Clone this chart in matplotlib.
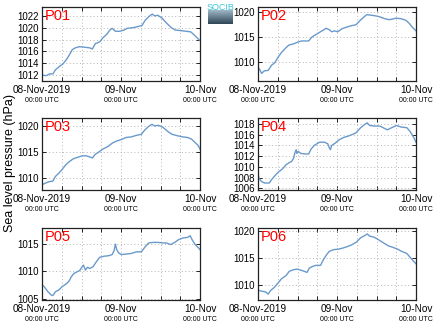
import numpy as np
import matplotlib
matplotlib.use("Agg")
import matplotlib.pyplot as plt

plt.rcParams['font.family'] = ['Liberation Sans', 'DejaVu Sans']

# hours since 08-Nov-2019 00:00 UTC, sea level pressure (hPa)
p01_h = [0, 1.3, 2.3, 3.3, 4.1, 5.4, 6.4, 7.4, 8.4, 9.2, 10.1, 11.4, 13.0, 14.5, 15.3, 16.2, 17.5, 18.5, 19.7, 20.6,
         21.3, 22.3, 23.6, 24.9, 25.9, 27.6, 29.2, 30.4, 31.4, 32.7, 33.5, 34.2, 35.2, 36.5, 37.8, 39.3, 40.5, 42.3,
         43.8, 45.2, 46.4, 48]
p01_p = [1012.0, 1011.9, 1012.2, 1012.2, 1012.9, 1013.5, 1013.9, 1014.6, 1015.5, 1016.3, 1016.6, 1016.8, 1016.7,
         1016.6, 1016.4, 1017.3, 1017.6, 1018.3, 1018.9, 1019.6, 1019.9, 1019.4, 1019.4, 1019.6, 1019.9, 1020.0,
         1020.2, 1020.4, 1021.3, 1022.0, 1022.3, 1022.0, 1022.1, 1021.6, 1020.8, 1020.0, 1019.6, 1019.5, 1019.4,
         1019.3, 1018.7, 1017.8]

p02_h = [0, 0.5, 1.1, 1.9, 3.1, 4.1, 5.1, 6.1, 7.1, 8.4, 9.4, 10.7, 12.2, 13.2, 14.4, 15.4, 16.4, 17.7, 19.2, 20.7,
         21.7, 22.4, 23.2, 24.2, 25.5, 26.8, 28.3, 29.8, 31.1, 32.3, 33.1, 34.1, 35.3, 36.8, 38.5, 39.8, 40.8, 41.8,
         43.4, 44.9, 45.9, 46.9, 48]
p02_p = [1009.0, 1008.6, 1007.8, 1008.3, 1008.4, 1009.4, 1009.9, 1011.0, 1011.9, 1012.8, 1013.4, 1013.6, 1014.0,
         1014.2, 1014.2, 1014.2, 1015.0, 1015.5, 1016.1, 1016.7, 1016.4, 1016.0, 1016.2, 1016.0, 1016.6, 1016.9,
         1017.2, 1017.4, 1018.3, 1019.0, 1019.4, 1019.3, 1019.2, 1019.0, 1018.6, 1018.4, 1018.5, 1018.7, 1018.6,
         1018.3, 1017.7, 1016.9, 1016.2]

p03_h = [0, 1.0, 2.3, 3.3, 4.1, 5.1, 6.1, 7.1, 8.1, 9.4, 10.7, 12.2, 13.5, 14.5, 15.3, 16.2, 17.2, 18.5, 20.1, 21.3,
         22.6, 24.1, 25.6, 27.1, 28.7, 30.2, 31.2, 32.4, 33.4, 34.2, 35.4, 36.8, 38.3, 39.5, 41.3, 42.8, 44.2, 45.4,
         46.4, 47.4, 48]
p03_p = [1008.8, 1009.1, 1009.4, 1009.5, 1010.4, 1011.0, 1011.7, 1012.5, 1013.1, 1013.7, 1014.0, 1014.3, 1014.3,
         1014.1, 1013.9, 1014.6, 1015.0, 1015.6, 1016.1, 1016.7, 1017.1, 1017.4, 1017.8, 1017.9, 1018.2, 1018.4,
         1019.2, 1019.9, 1020.3, 1020.0, 1020.1, 1019.7, 1018.9, 1018.4, 1018.1, 1017.9, 1017.8, 1017.5, 1016.9,
         1016.3, 1015.6]

p04_h = [0, 0.3, 1.0, 2.0, 3.4, 4.1, 4.9, 6.1, 7.4, 8.5, 9.5, 10.2, 10.8, 11.2, 11.6, 11.8, 12.2, 13.0, 14.6, 15.4,
         16.1, 17.1, 18.7, 20.2, 21.2, 21.7, 22.0, 22.4, 23.4, 24.8, 26.1, 27.3, 28.5, 29.7, 31.2, 32.4, 33.2, 33.9,
         35.5, 37.0, 38.0, 39.3, 40.6, 42.1, 43.6, 45.2, 46.2, 47.2, 48]
p04_p = [1008.8, 1007.9, 1007.3, 1007.0, 1007.0, 1007.6, 1008.2, 1009.0, 1009.6, 1010.4, 1010.8, 1011.0, 1011.6,
         1012.6, 1013.2, 1012.5, 1012.9, 1012.5, 1012.4, 1012.4, 1013.3, 1014.0, 1014.6, 1014.6, 1014.3, 1013.5,
         1013.2, 1014.0, 1014.4, 1015.1, 1015.5, 1015.7, 1016.0, 1016.3, 1017.3, 1017.9, 1018.2, 1017.7, 1017.6,
         1017.6, 1017.3, 1016.9, 1017.3, 1017.7, 1017.4, 1017.3, 1016.6, 1015.6, 1014.6]

p05_h = [0, 0.8, 1.8, 2.8, 3.3, 4.1, 5.1, 6.1, 7.1, 7.9, 8.4, 8.9, 9.7, 10.7, 11.4, 12.2, 12.6, 13.2, 13.8, 14.5,
         15.5, 16.5, 17.5, 18.8, 20.3, 21.3, 21.9, 22.3, 22.7, 23.3, 24.1, 25.6, 27.1, 28.7, 30.2, 31.2, 32.4, 33.7,
         35.2, 36.8, 37.8, 39.1, 40.3, 41.5, 42.8, 44.2, 45.0, 45.6, 46.4, 47.4, 48]
p05_p = [1007.6, 1007.1, 1006.3, 1005.7, 1005.6, 1006.3, 1006.6, 1007.2, 1007.6, 1008.0, 1008.4, 1009.0, 1009.6,
         1009.9, 1010.1, 1010.8, 1011.1, 1010.2, 1010.7, 1010.5, 1010.8, 1011.7, 1012.5, 1012.7, 1012.8, 1013.0,
         1013.7, 1014.9, 1013.9, 1013.3, 1013.0, 1013.1, 1013.2, 1013.5, 1013.5, 1014.3, 1015.1, 1015.2, 1015.2,
         1015.1, 1015.1, 1014.8, 1015.2, 1015.7, 1016.0, 1016.1, 1016.4, 1015.7, 1014.9, 1014.3, 1013.9]

p06_h = [0, 1.3, 2.3, 3.1, 3.9, 4.9, 5.9, 7.1, 8.5, 9.5, 10.8, 12.0, 13.6, 14.9, 15.6, 16.6, 17.6, 19.0, 20.0, 21.0,
         21.7, 23.0, 24.5, 25.8, 27.3, 28.5, 29.9, 31.2, 32.4, 33.2, 33.9, 35.3, 36.7, 38.0, 39.6, 41.1, 42.4, 43.6,
         45.2, 46.2, 47.2, 48]
p06_p = [1009.0, 1008.8, 1008.7, 1008.3, 1009.0, 1009.5, 1010.2, 1011.1, 1011.7, 1012.5, 1012.8, 1012.9, 1012.6,
         1012.3, 1013.1, 1013.4, 1013.6, 1013.6, 1014.8, 1015.7, 1016.2, 1016.5, 1016.6, 1016.8, 1017.1, 1017.4,
         1017.9, 1018.7, 1019.1, 1019.4, 1019.0, 1018.8, 1018.3, 1017.8, 1017.2, 1016.9, 1016.6, 1016.2, 1015.8,
         1015.1, 1014.4, 1013.9]

names = ["P01", "P02", "P03", "P04", "P05", "P06"]
hours = [p01_h, p02_h, p03_h, p04_h, p05_h, p06_h]
pressures = [p01_p, p02_p, p03_p, p04_p, p05_p, p06_p]
ylims = [(1011.0, 1023.5), (1006.3, 1020.9), (1007.8, 1021.5), (1005.7, 1019.1), (1004.8, 1017.8), (1007.2, 1020.5)]
yticks = [range(1012, 1023, 2), [1010, 1015, 1020], [1010, 1015, 1020],
          range(1006, 1019, 2), [1005, 1010, 1015], [1010, 1015, 1020]]
day_labels = ["08-Nov-2019", "09-Nov", "10-Nov"]

W, H = 434, 327
fig = plt.figure(figsize=(W / 100, H / 100), dpi=100)

# panel boxes in pixels: left, right, top, bottom
cols = [(42, 200), (258, 416)]
rows = [(7, 81), (118, 190), (228, 300)]

line_color = "#6a9acb"
for i, name in enumerate(names):
    (x0, x1), (y0, y1) = cols[i % 2], rows[i // 2]
    ax = fig.add_axes([x0 / W, 1 - y1 / H, (x1 - x0) / W, (y1 - y0) / H])
    ax.plot(hours[i], pressures[i], color=line_color, lw=1.0)
    ax.set_xlim(0, 48)
    ax.set_ylim(*ylims[i])
    ax.set_yticks(list(yticks[i]))
    ax.set_xticks(np.arange(0, 49, 6))
    ax.set_xticklabels([])
    ax.grid(True, ls=(0, (1, 2.5)), color="#b4b4b4", lw=0.7)
    ax.tick_params(direction="in", length=3, width=0.6, top=True, right=True, labelsize=7, pad=2)
    for s in ax.spines.values():
        s.set_linewidth(0.9)
        s.set_color("#222222")
    for k, lab in enumerate(day_labels):
        ax.text(k * 24, -0.06, lab, transform=ax.get_xaxis_transform(), ha="center", va="top", fontsize=7.2)
        ax.text(k * 24, -0.22, "00:00 UTC", transform=ax.get_xaxis_transform(), ha="center", va="top",
                fontsize=5.0)
    ax.text(0.015, 0.97, name, transform=ax.transAxes, ha="left", va="top", fontsize=10.5, color="red")

fig.text(10 / W, 1 - 163 / H, "Sea level pressure (hPa)", rotation=90, ha="center", va="center", fontsize=9)

# logo
lax = fig.add_axes([208 / W, 1 - 24 / H, 25 / W, 14 / H])
grad = np.linspace(0, 1, 50).reshape(-1, 1)
lax.imshow(grad, aspect="auto", cmap=matplotlib.colors.LinearSegmentedColormap.from_list(
    "lg", ["#9fb6c4", "#2e4656"]), extent=(0, 1, 0, 1))
lax.axis("off")
fig.text(220 / W, 1 - 7 / H, "SOCIB", ha="center", va="center", fontsize=6.5, color="#3cc4d8")

fig.savefig("out.png", dpi=100)
